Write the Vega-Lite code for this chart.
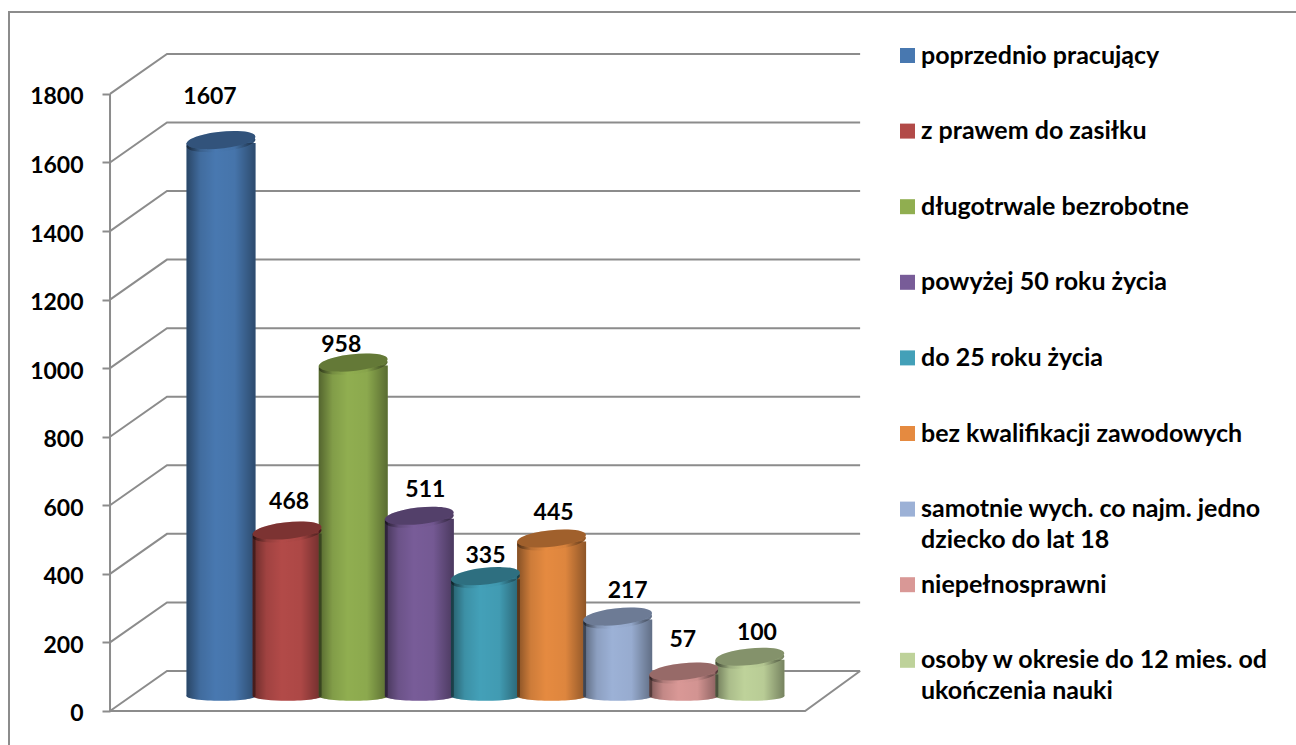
{
"$schema":"https://vega.github.io/schema/vega-lite/v6.json",
"width":1287,"height":733,
"padding":{"left":9,"top":12,"right":0,"bottom":0},
"autosize":{"type":"none"},
"background":"white",
"config":{"view":{"stroke":null},"font":"Lato"},
"datasets":{
"kategorie":[
{"kategoria":"poprzednio pracujący","pozycja":1,"wartosc":1607},
{"kategoria":"z prawem do zasiłku","pozycja":2,"wartosc":468},
{"kategoria":"długotrwale bezrobotne","pozycja":3,"wartosc":958},
{"kategoria":"powyżej 50 roku życia","pozycja":4,"wartosc":511},
{"kategoria":"do 25 roku życia","pozycja":5,"wartosc":335},
{"kategoria":"bez kwalifikacji zawodowych","pozycja":6,"wartosc":445},
{"kategoria":"samotnie wych. co najm. jedno dziecko do lat 18","pozycja":7,"wartosc":217},
{"kategoria":"niepełnosprawni","pozycja":8,"wartosc":57},
{"kategoria":"osoby w okresie do 12 mies. od ukończenia nauki","pozycja":9,"wartosc":100}
],
"siatka":[
{"linia":"ramka","p":-2.207,"w":-99.2},{"linia":"ramka","p":-2.207,"w":2039},{"linia":"ramka","p":17.26,"w":2039},
{"linia":"0","p":-0.679,"w":0},{"linia":"0","p":0.183,"w":116.7},{"linia":"0","p":10.667,"w":116.7},
{"linia":"200","p":-0.679,"w":200},{"linia":"200","p":0.183,"w":316.7},{"linia":"200","p":10.667,"w":316.7},
{"linia":"400","p":-0.679,"w":400},{"linia":"400","p":0.183,"w":516.7},{"linia":"400","p":10.667,"w":516.7},
{"linia":"600","p":-0.679,"w":600},{"linia":"600","p":0.183,"w":716.7},{"linia":"600","p":10.667,"w":716.7},
{"linia":"800","p":-0.679,"w":800},{"linia":"800","p":0.183,"w":916.7},{"linia":"800","p":10.667,"w":916.7},
{"linia":"1000","p":-0.679,"w":1000},{"linia":"1000","p":0.183,"w":1116.7},{"linia":"1000","p":10.667,"w":1116.7},
{"linia":"1200","p":-0.679,"w":1200},{"linia":"1200","p":0.183,"w":1316.7},{"linia":"1200","p":10.667,"w":1316.7},
{"linia":"1400","p":-0.679,"w":1400},{"linia":"1400","p":0.183,"w":1516.7},{"linia":"1400","p":10.667,"w":1516.7},
{"linia":"1600","p":-0.679,"w":1600},{"linia":"1600","p":0.183,"w":1716.7},{"linia":"1600","p":10.667,"w":1716.7},
{"linia":"1800","p":-0.679,"w":1800},{"linia":"1800","p":0.183,"w":1916.7},{"linia":"1800","p":10.667,"w":1916.7},
{"linia":"podloga","p":-0.679,"w":0},{"linia":"podloga","p":9.835,"w":0},{"linia":"podloga","p":10.667,"w":116.7},
{"linia":"os","p":-0.679,"w":0},{"linia":"os","p":-0.679,"w":1800}
]
},
"data":{"name":"kategorie"},
"encoding":{
"x":{"field":"pozycja","type":"quantitative","axis":null,"scale":{"domain":[-2.207,17.26],"nice":false,"zero":false,"padding":0}},
"y":{"field":"wartosc","type":"quantitative","stack":null,"scale":{"domain":[-99.2,2039],"nice":false,"zero":false,"padding":0},
"axis":{"values":[0,200,400,600,800,1000,1200,1400,1600,1800],"format":"d","offset":-101,"domain":false,"grid":false,"title":null,"tickColor":"#8c8c8c","tickWidth":2,"tickSize":8,"labelPadding":19,"labelOffset":3,"labelFont":"Lato","labelFontWeight":"bold","labelFontSize":23,"labelColor":"black"}}
},
"layer":[
{"data":{"name":"siatka"},
"mark":{"type":"line","stroke":"#8c8c8c","strokeWidth":2,"clip":false},
"encoding":{
"x":{"field":"p","type":"quantitative"},
"y":{"field":"w","type":"quantitative","title":null},
"detail":{"field":"linia"}}},
{"mark":{"type":"point","filled":true,"opacity":1,"size":4761,"strokeWidth":0,"yOffset":-15,"shape":"M-1,0 A1,0.14,0,1,1,1,0 A1,0.14,0,1,1,-1,0Z"},
"encoding":{"y":{"datum":0},
"color":{"field":"kategoria","type":"nominal","sort":null}}},
{"mark":{"type":"point","filled":true,"opacity":1,"size":4761,"strokeWidth":0,"yOffset":-15,"shape":"M-1,0 A1,0.14,0,1,1,1,0 A1,0.14,0,1,1,-1,0Z",
"fill":{"gradient":"linear","x1":0,"x2":1,"y1":0,"y2":0,"stops":[{"offset":0,"color":"rgba(0,0,0,0.42)"},{"offset":0.2,"color":"rgba(0,0,0,0.1)"},{"offset":0.42,"color":"rgba(0,0,0,0)"},{"offset":0.7,"color":"rgba(0,0,0,0.03)"},{"offset":1,"color":"rgba(0,0,0,0.38)"}]}},
"encoding":{"y":{"datum":0}}},
{"mark":{"type":"bar","orient":"vertical","width":69,"yOffset":-17,"y2Offset":-15},
"encoding":{"y2":{"datum":0},
"color":{"field":"kategoria","type":"nominal","sort":null,
"scale":{"domain":["poprzednio pracujący","z prawem do zasiłku","długotrwale bezrobotne","powyżej 50 roku życia","do 25 roku życia","bez kwalifikacji zawodowych","samotnie wych. co najm. jedno dziecko do lat 18","niepełnosprawni","osoby w okresie do 12 mies. od ukończenia nauki"],
"range":["#4878b0","#b24a48","#90ae50","#785c98","#43a0b8","#e58a40","#9cb1d6","#d99896","#bed29a"]},
"legend":{"title":null,"orient":"none","legendX":886,"legendY":31,"symbolType":"square","symbolSize":225,"symbolStrokeWidth":0,"symbolOpacity":1,"labelFont":"Lato","labelFontWeight":"bold","labelFontSize":25,"labelColor":"black","labelLimit":500,"labelOffset":1,"rowPadding":18.6,"labelBaseline":"top",
"labelExpr":"datum.label == 'samotnie wych. co najm. jedno dziecko do lat 18' ? ['samotnie wych. co najm. jedno','dziecko do lat 18'] : datum.label == 'osoby w okresie do 12 mies. od ukończenia nauki' ? ['osoby w okresie do 12 mies. od','ukończenia nauki'] : [datum.label,' ']",
"encode":{"labels":{"update":{"dy":{"value":-12},"lineHeight":{"value":31}}}}}}}},
{"mark":{"type":"point","filled":true,"opacity":1,"size":4761,"strokeWidth":0,"yOffset":-17,"shape":"M-0.9945,0.1045 A1,0.24,-6,1,1,0.9945,-0.1045 A1,0.24,-6,1,1,-0.9945,0.1045Z"},
"encoding":{"color":{"field":"kategoria","type":"nominal","sort":null}}},
{"mark":{"type":"point","filled":true,"opacity":1,"size":4761,"strokeWidth":0,"yOffset":-17,"shape":"M-0.9945,0.1045 A1,0.24,-6,1,1,0.9945,-0.1045 A1,0.24,-6,1,1,-0.9945,0.1045Z",
"fill":{"gradient":"linear","x1":0,"x2":1,"y1":0,"y2":0,"stops":[{"offset":0,"color":"rgba(0,0,0,0.42)"},{"offset":0.2,"color":"rgba(0,0,0,0.1)"},{"offset":0.42,"color":"rgba(0,0,0,0)"},{"offset":0.7,"color":"rgba(0,0,0,0.03)"},{"offset":1,"color":"rgba(0,0,0,0.38)"}]}}},
{"mark":{"type":"bar","orient":"vertical","width":69,"yOffset":-17,"y2Offset":-15,
"fill":{"gradient":"linear","x1":0,"x2":1,"y1":0,"y2":0,"stops":[{"offset":0,"color":"rgba(0,0,0,0.42)"},{"offset":0.2,"color":"rgba(0,0,0,0.1)"},{"offset":0.42,"color":"rgba(0,0,0,0)"},{"offset":0.7,"color":"rgba(0,0,0,0.03)"},{"offset":1,"color":"rgba(0,0,0,0.38)"}]}},
"encoding":{"y2":{"datum":0}}},
{"mark":{"type":"point","filled":true,"opacity":1,"size":4761,"strokeWidth":0,"yOffset":-20,"shape":"M-0.9945,0.1045 A1,0.24,-6,1,1,0.9945,-0.1045 A1,0.24,-6,1,1,-0.9945,0.1045Z"},
"encoding":{"color":{"field":"kategoria","type":"nominal","sort":null}}},
{"mark":{"type":"point","filled":true,"opacity":0.3,"size":4761,"strokeWidth":0,"yOffset":-20,"color":"black","shape":"M-0.9945,0.1045 A1,0.24,-6,1,1,0.9945,-0.1045 A1,0.24,-6,1,1,-0.9945,0.1045Z"}},
{"mark":{"type":"text","font":"Lato","fontWeight":"bold","fontSize":23,"color":"black","align":"center","baseline":"middle",
"dx":{"expr":"[-11,2,-12,6,0,2,10,-1,7][datum.pozycja-1]"},
"dy":{"expr":"[-43,-29,-18,-26,-20,-25,-26,-31,-24][datum.pozycja-1]-20"}},
"encoding":{"text":{"field":"wartosc","type":"quantitative"}}}
]
}
